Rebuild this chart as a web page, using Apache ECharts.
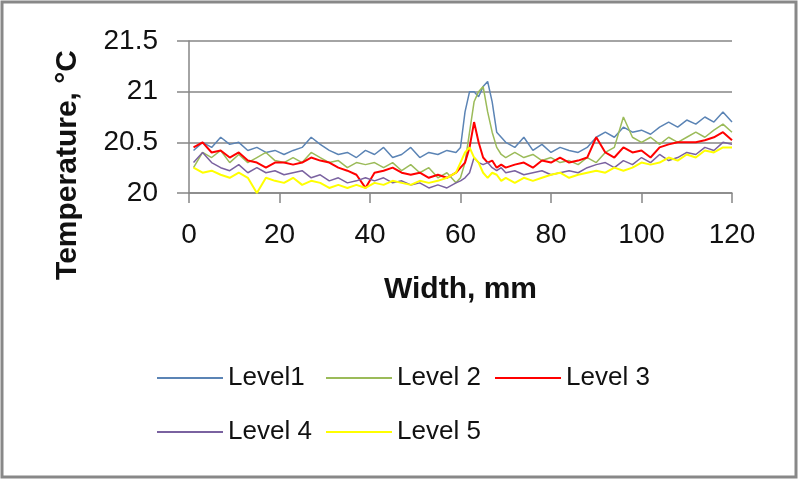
<!DOCTYPE html>
<html>
<head>
<meta charset="utf-8">
<script src="https://cdn.jsdelivr.net/npm/echarts@6/dist/echarts.min.js"></script>
<style>html,body{margin:0;padding:0;background:#fff;}#chart{width:802px;height:484px;}</style>
</head>
<body>
<div id="chart"></div>
<script>
// Width positions (mm)
var widthMm = [1,3,5,7,9,11,13,15,17,19,21,23,25,27,29,31,33,35,37,39,41,43,45,47,49,51,53,55,57,59,
  60,61,62,63,64,65,66,67,68,69,70,
  72,74,76,78,80,82,84,86,88,90,92,94,96,98,100,102,104,106,108,110,112,114,116,118,120];

var level1 = [20.42,20.5,20.45,20.55,20.48,20.5,20.42,20.45,20.4,20.42,20.38,20.42,20.45,20.55,20.48,20.42,20.38,20.4,20.35,20.42,20.38,20.45,20.35,20.38,20.45,20.35,20.4,20.38,20.42,20.4,
  20.45,20.8,21.0,21.0,20.95,21.05,21.1,20.9,20.6,20.55,20.5,
  20.45,20.55,20.42,20.48,20.4,20.45,20.42,20.4,20.45,20.55,20.6,20.55,20.65,20.6,20.62,20.58,20.65,20.7,20.65,20.72,20.68,20.75,20.7,20.8,20.7];

var level2 = [20.25,20.4,20.35,20.42,20.3,20.38,20.3,20.35,20.4,20.32,20.3,20.35,20.3,20.4,20.35,20.3,20.32,20.25,20.3,20.28,20.3,20.25,20.3,20.22,20.28,20.2,20.25,20.15,20.2,20.1,
  20.15,20.3,20.6,20.9,21.0,21.05,20.8,20.6,20.45,20.38,20.35,
  20.4,20.35,20.38,20.32,20.35,20.3,20.32,20.28,20.35,20.3,20.4,20.45,20.75,20.55,20.5,20.55,20.48,20.55,20.5,20.55,20.6,20.55,20.62,20.68,20.6];

var level3 = [20.45,20.5,20.4,20.42,20.35,20.4,20.32,20.3,20.25,20.3,20.3,20.28,20.3,20.35,20.32,20.3,20.25,20.22,20.18,20.05,20.2,20.22,20.25,20.2,20.18,20.2,20.15,20.18,20.15,20.2,
  20.25,20.3,20.45,20.7,20.5,20.35,20.3,20.32,20.25,20.28,20.25,
  20.28,20.3,20.25,20.32,20.3,20.35,20.3,20.32,20.35,20.55,20.4,20.35,20.45,20.4,20.42,20.35,20.45,20.48,20.5,20.5,20.5,20.52,20.55,20.6,20.52];

var level4 = [20.3,20.4,20.3,20.25,20.22,20.28,20.2,20.25,20.2,20.22,20.18,20.2,20.22,20.15,20.18,20.12,20.15,20.1,20.12,20.15,20.12,20.15,20.1,20.12,20.08,20.1,20.05,20.08,20.05,20.1,
  20.12,20.15,20.2,20.35,20.3,20.28,20.3,20.25,20.22,20.25,20.2,
  20.22,20.18,20.2,20.22,20.18,20.2,20.22,20.2,20.25,20.28,20.3,20.25,20.32,20.28,20.35,20.3,20.38,20.32,20.35,20.4,20.38,20.45,20.42,20.5,20.48];

var level5 = [20.25,20.2,20.22,20.18,20.15,20.2,20.15,20.0,20.15,20.12,20.1,20.15,20.08,20.12,20.1,20.05,20.08,20.05,20.08,20.05,20.1,20.08,20.12,20.1,20.08,20.12,20.1,20.12,20.15,20.2,
  20.3,20.4,20.45,20.35,20.3,20.2,20.15,20.2,20.18,20.12,20.15,
  20.1,20.15,20.12,20.15,20.18,20.2,20.15,20.18,20.2,20.22,20.2,20.25,20.22,20.25,20.3,20.28,20.3,20.35,20.32,20.38,20.35,20.42,20.4,20.45,20.45];

var seriesNames = ['Level1', 'Level 2', 'Level 3', 'Level 4', 'Level 5'];
var seriesValues = [level1, level2, level3, level4, level5];
var seriesColors = ['#5b84b5', '#9bbb59', '#ff0000', '#7a62a0', '#ffff00'];
var seriesWidths = [1.5, 1.5, 2, 1.5, 2];

var xTicks = { min: 0, max: 120, interval: 20 };
var yTicks = { min: 20, max: 21.5, interval: 0.5 };

var FONT = 'Liberation Sans';
var chart = echarts.init(document.getElementById('chart'), null, { renderer: 'canvas' });

var series = seriesNames.map(function (name, i) {
  return {
    name: name,
    type: 'line',
    symbol: 'none',
    showSymbol: false,
    animation: false,
    data: widthMm.map(function (x, j) { return [x, seriesValues[i][j]]; }),
    lineStyle: { color: seriesColors[i], width: seriesWidths[i] },
    itemStyle: { color: seriesColors[i] }
  };
});

var legendCommon = {
  orient: 'horizontal',
  left: 157,
  padding: 0,
  itemGap: 0,
  icon: 'rect',
  itemWidth: 66,
  itemHeight: 2,
  textStyle: { fontFamily: FONT, fontSize: 26, color: '#111', width: 98, lineHeight: 30 }
};

chart.setOption({
  backgroundColor: '#ffffff',
  animation: false,
  grid: { left: 189, right: 70, top: 41, bottom: 291, containLabel: false },
  xAxis: {
    type: 'value',
    min: xTicks.min, max: xTicks.max, interval: xTicks.interval,
    name: 'Width, mm',
    nameLocation: 'middle',
    nameGap: 82,
    nameTextStyle: { fontFamily: FONT, fontSize: 30, fontWeight: 'bold', color: '#111' },
    axisLine: { lineStyle: { color: '#868686', width: 1.5 } },
    axisTick: { show: true, inside: false, length: 10, lineStyle: { color: '#868686', width: 1.5 } },
    axisLabel: { fontFamily: FONT, fontSize: 28, color: '#111', margin: 28 },
    splitLine: { show: false }
  },
  yAxis: {
    type: 'value',
    min: yTicks.min, max: yTicks.max, interval: yTicks.interval,
    name: 'Temperature, °C',
    nameLocation: 'middle',
    nameGap: 106,
    nameTextStyle: { fontFamily: FONT, fontSize: 30, fontWeight: 'bold', color: '#111', padding: [0, 96, 0, 0] },
    axisLine: { show: true, lineStyle: { color: '#868686', width: 1.5 } },
    axisTick: { show: true, inside: false, length: 12, lineStyle: { color: '#868686', width: 1.5 } },
    axisLabel: { fontFamily: FONT, fontSize: 28, color: '#111', margin: 31 },
    splitLine: { show: true, lineStyle: { color: '#868686', width: 1.5 } }
  },
  legend: [
    Object.assign({}, legendCommon, { top: 363, data: seriesNames.slice(0, 3) }),
    Object.assign({}, legendCommon, { top: 417, data: seriesNames.slice(3) })
  ],
  graphic: [{
    type: 'rect',
    shape: { x: 2, y: 2, width: 794, height: 475 },
    style: { fill: 'none', stroke: '#888888', lineWidth: 3 },
    silent: true
  }],
  series: series
});
</script>
</body>
</html>
